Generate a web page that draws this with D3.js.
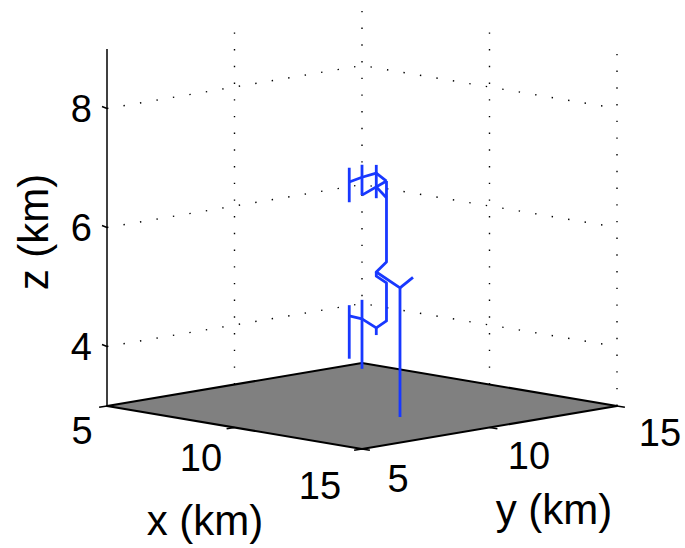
<!DOCTYPE html>
<html>
<head>
<meta charset="utf-8">
<script src="https://cdn.jsdelivr.net/npm/d3@7"></script>
<style>
  body { margin: 0; background: #fff; }
  svg { display: block; font-family: "Liberation Sans", Arial, sans-serif; }
</style>
</head>
<body>
<svg width="685" height="548"></svg>
<script>
// axis limits and ticks (km)
const xLim = [5, 15], yLim = [5, 15], zLim = [3, 9]
const xTicks = [5, 10, 15], yTicks = [5, 10, 15], zTicks = [4, 6, 8]

// channel segments as [x, y, z] km
const upperChannel = [
  [[8.75, 10.75, 6.86], [8.75, 10.75, 6.28]],
  [[8.75, 10.75, 6.62], [9, 11, 6.70], [9.78, 10.78, 6.84], [10.48, 10.48, 6.78]],
  [[9, 11, 6.91], [9, 11, 6.40]],
  [[9.78, 10.78, 6.98], [9.78, 10.78, 6.42]],
  [[9, 11, 6.40], [10.48, 10.48, 6.78]],
  [[9.78, 10.78, 6.61], [10.48, 10.48, 6.50]]
]
const groundChannel = [
  [[10.48, 10.48, 6.78], [10.48, 10.48, 5.42], [9.78, 10.78, 5.18], [12.02, 9.47, 5.17], [12.02, 9.47, 3.0]],
  [[12.02, 9.47, 5.17], [12.5, 9.5, 5.38]]
]
const lowerChannel = [
  [[9.78, 10.78, 5.18], [9.78, 10.78, 5.11], [10.48, 10.48, 5.07], [10.48, 10.48, 4.43],
   [9.78, 10.78, 4.24], [9, 11, 4.32], [8.75, 10.75, 4.37]],
  [[8.75, 10.75, 4.55], [8.75, 10.75, 3.65]],
  [[9, 11, 4.64], [9, 11, 3.48]],
  [[9.78, 10.78, 4.24], [9.78, 10.78, 4.12]]
]

const svg = d3.select("svg")

// orthographic 3-D view: x runs down-right, y up-right, z up
const origin = [107, 0], span = 255, skew = 43
const fx = d3.scaleLinear().domain(xLim).range([0, 1]),
      fy = d3.scaleLinear().domain(yLim).range([0, 1]),
      zY = d3.scaleLinear().domain(zLim).range([406, 49])

const proj = ([x, y, z]) => {
  const a = fx(x), b = fy(y)
  return [origin[0] + span * (a + b), zY(z) + skew * (a - b)]
}
const line = d3.line().x(p => proj(p)[0]).y(p => proj(p)[1])

// where the tick labels sit (they spread a little wider than the edge)
const xLabelPos = d3.scaleLinear().domain(xLim).range([[82, 430], [320, 485]]),
      yLabelPos = d3.scaleLinear().domain(yLim).range([[398, 478], [660, 432]])

const grid = svg.append("g").style("fill", "none").style("stroke", "#000")
  .style("stroke-width", 1.4).style("stroke-dasharray", "1.4,15.3")

// back walls: x = xmin (left) and y = ymax (right)
zTicks.forEach(z => {
  grid.append("path").attr("d", line([[xLim[0], yLim[0], z], [xLim[0], yLim[1], z], [xLim[1], yLim[1], z]]))
})
yTicks.slice(1).forEach(y => {
  grid.append("path").attr("d", line([[xLim[0], y, zLim[0]], [xLim[0], y, zLim[1]]]))
})
xTicks.slice(1).forEach(x => {
  grid.append("path").attr("d", line([[x, yLim[1], zLim[0]], [x, yLim[1], zLim[1]]]))
})

// floor patch
svg.append("path")
  .attr("d", line([[xLim[0], yLim[0], zLim[0]], [xLim[1], yLim[0], zLim[0]], [xLim[1], yLim[1], zLim[0]], [xLim[0], yLim[1], zLim[0]]]) + "Z")
  .style("fill", "#808080").style("stroke", "#000").style("stroke-width", 2).style("stroke-linejoin", "round")

// z axis line
svg.append("path").attr("d", line([[xLim[0], yLim[0], zLim[0]], [xLim[0], yLim[0], zLim[1]]]))
  .style("stroke", "#000").style("stroke-width", 1.5)

const tickLen = 8
const unit = (dx, dy) => { const l = Math.hypot(dx, dy); return [dx / l, dy / l] }
const dirY = unit(-span, skew), dirX = unit(span, skew)

const ticks = svg.append("g").style("stroke", "#000").style("stroke-width", 1.5)
xTicks.forEach(x => {
  const [px, py] = proj([x, yLim[0], zLim[0]])
  ticks.append("line").attr("x1", px).attr("y1", py).attr("x2", px + dirY[0] * tickLen).attr("y2", py + dirY[1] * tickLen)
})
yTicks.forEach(y => {
  const [px, py] = proj([xLim[1], y, zLim[0]])
  ticks.append("line").attr("x1", px).attr("y1", py).attr("x2", px + dirX[0] * tickLen).attr("y2", py + dirX[1] * tickLen)
})
zTicks.forEach(z => {
  const [px, py] = proj([xLim[0], yLim[0], z])
  ticks.append("line").attr("x1", px).attr("y1", py).attr("x2", px - 5).attr("y2", py - 2)
})

// channels
const chan = svg.append("g").style("fill", "none").style("stroke", "#1838ff")
  .style("stroke-width", 2.8).style("stroke-linejoin", "round")
upperChannel.concat(groundChannel, lowerChannel).forEach(seg => chan.append("path").attr("d", line(seg)))

// tick labels
const lab = svg.append("g").style("font-size", "38px").style("fill", "#000")
zTicks.forEach(z => {
  lab.append("text").text(z).attr("x", 92).attr("y", zY(z)).attr("dy", "0.36em").style("text-anchor", "end")
})
xTicks.forEach(x => {
  const [px, py] = xLabelPos(x)
  lab.append("text").text(x).attr("x", px).attr("y", py).attr("dy", "0.36em").style("text-anchor", "middle")
})
yTicks.forEach(y => {
  const [px, py] = yLabelPos(y)
  lab.append("text").text(y).attr("x", px).attr("y", py).attr("dy", "0.36em").style("text-anchor", "middle")
})

// axis labels
const ax = svg.append("g").style("font-size", "42px").style("fill", "#000").style("text-anchor", "middle")
ax.append("text").text("x (km)").attr("x", 205).attr("y", 520).attr("dy", "0.36em")
ax.append("text").text("y (km)").attr("x", 554).attr("y", 509).attr("dy", "0.36em")
ax.append("text").text("z (km)").attr("transform", "translate(33,232) rotate(-90)").attr("dy", "0.36em")
</script>
</body>
</html>
